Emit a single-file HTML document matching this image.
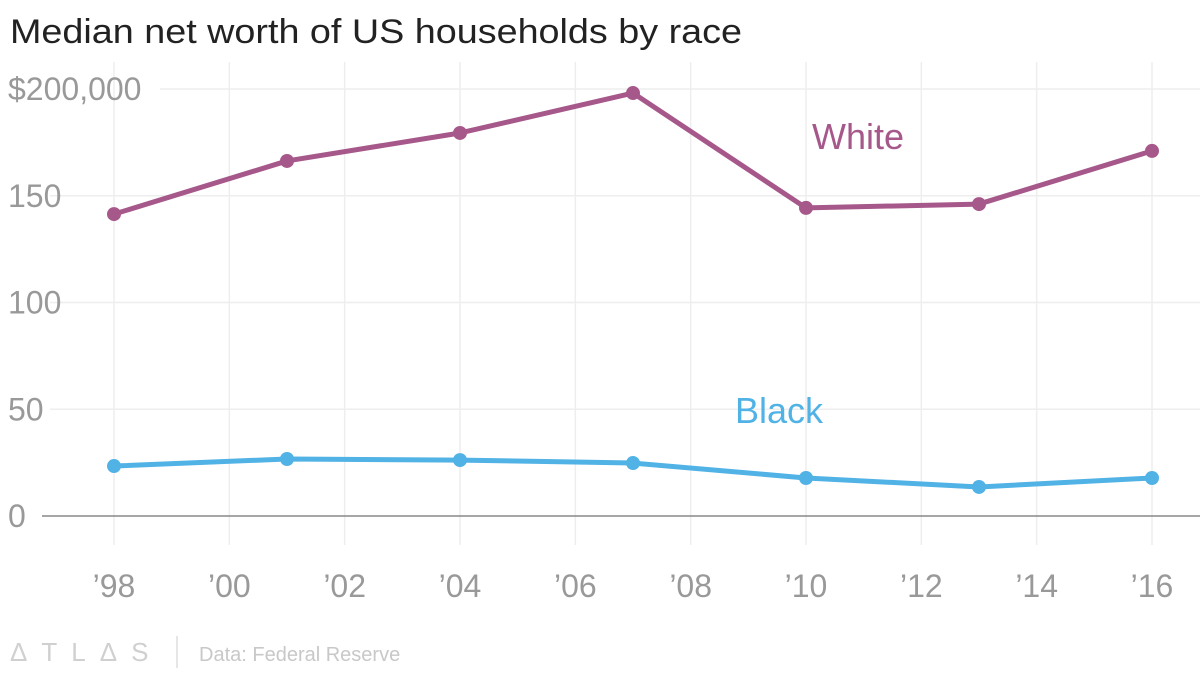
<!DOCTYPE html>
<html><head><meta charset="utf-8"><style>
html,body{margin:0;padding:0;background:#fff;}
body{width:1200px;height:675px;overflow:hidden;font-family:"Liberation Sans",sans-serif;}
</style></head><body>
<svg id="chart" width="1200" height="675" xmlns="http://www.w3.org/2000/svg">
<text x="10" y="43" font-size="34" textLength="732" lengthAdjust="spacingAndGlyphs" fill="#222" font-family="Liberation Sans, sans-serif">Median net worth of US households by race</text>
<g id="grid"></g>
<g id="axes"></g>
<g id="series"></g>
<g fill="#ccc" font-size="20">
<text x="10" y="661" font-size="26" letter-spacing="14" fill="#d0d0d0">ΔTLΔS</text>
<line x1="177" y1="636" x2="177" y2="668" stroke="#ddd" stroke-width="1.5"/>
<text x="199" y="661" fill="#c8c8c8">Data: Federal Reserve</text>
</g>
</svg>
<script>
const years=[1998,2001,2004,2007,2010,2013,2016];
const white=[141.4,166.3,179.4,198.1,144.3,146.1,171];
const black=[23.4,26.7,26.2,24.8,17.8,13.6,17.8];
const yTicks=[0,50,100,150,200];
const yTickLabels=["0","50","100","150","$200,000"];
const xTicks=[1998,2000,2002,2004,2006,2008,2010,2012,2014,2016];
const xTickLabels=["’98","’00","’02","’04","’06","’08","’10","’12","’14","’16"];
const NS="http://www.w3.org/2000/svg";
const xs=y=>114+(y-1998)*(1152-114)/18;
const ys=v=>516-v*(516-89)/200;
function mk(tag,attrs,parent,txt){const e=document.createElementNS(NS,tag);for(const k in attrs)e.setAttribute(k,attrs[k]);if(txt!=null)e.textContent=txt;parent.appendChild(e);return e;}
const grid=document.getElementById('grid'),axes=document.getElementById('axes'),ser=document.getElementById('series');
xTicks.forEach((t,i)=>{
 const l=mk('line',{x1:xs(t),x2:xs(t),y1:62,y2:545,stroke:'#eee','stroke-width':1.5},grid);
 
 
 const tx=mk('text',{x:xs(t),y:597,'text-anchor':'middle','font-size':32,fill:'#999'},axes,xTickLabels[i]);
 
 
});
yTicks.forEach((t,i)=>{
 const l=mk('line',{x1:t===0?42:(t===200?160:50),x2:1200,y1:ys(t),y2:ys(t),stroke:t===0?'#888':'#eee','stroke-width':1.5},grid);
 
 
 const tx=mk('text',{x:8,y:ys(t)+11,'font-size':32,fill:'#999'},axes,yTickLabels[i]);
 
 
});
function draw(vals,color,name,lx,ly,label){
 const p=mk('polyline',{points:years.map((y,i)=>xs(y)+','+ys(vals[i])).join(' '),fill:'none',stroke:color,'stroke-width':5,'stroke-linejoin':'round'},ser);
 
 
 years.forEach((y,i)=>{
  const c=mk('circle',{cx:xs(y),cy:ys(vals[i]),r:7,fill:color},ser);
  
  
 });
 const t=mk('text',{x:lx,y:ly,'font-size':36,fill:color},ser,label);
 
 
}
draw(white,'#a6588a','white',812,149,'White');
draw(black,'#51b2e5','black',735,423,'Black');
</script>
</body></html>
